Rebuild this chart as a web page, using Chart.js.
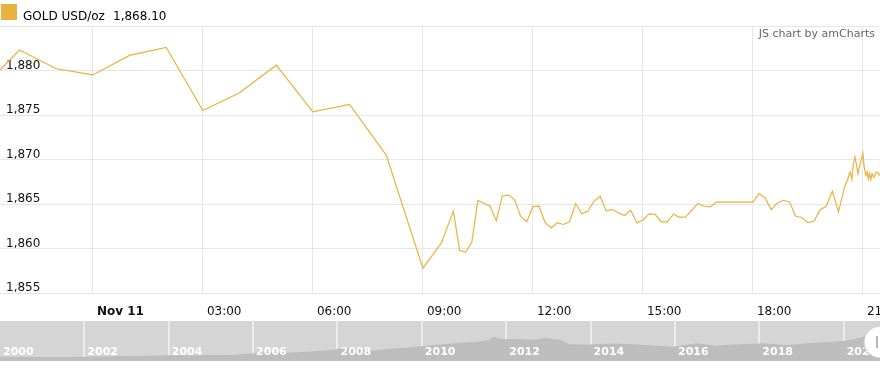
<!DOCTYPE html>
<html>
<head>
<meta charset="utf-8">
<script src="https://cdn.jsdelivr.net/npm/chart.js@4/dist/chart.umd.min.js"></script>
<style>
  html, body { margin: 0; padding: 0; background: #ffffff; }
  #wrap { position: relative; width: 880px; height: 369px; overflow: hidden; }
  #main { position: absolute; left: 0; top: 0; }
  #nav { position: absolute; left: 0; top: 321px; }
</style>
</head>
<body>
<div id="wrap">
  <canvas id="main" width="880" height="321"></canvas>
  <canvas id="nav" width="880" height="40"></canvas>
</div>
<script>
// ---- data ----
const seriesName = 'GOLD USD/oz';
const creditText = 'JS chart by amCharts';
// minutes relative to Nov 11 00:00 (negative = Nov 10)
const mainTimes = [
  -180, -120, -60, 0, 60, 120, 180, 240, 300, 360, 420, 480, 540,
  570, 590, 600, 610, 620, 630, 650, 660, 670, 680, 690, 700, 710, 720,
  730, 740, 750, 760, 770, 780, 790, 800, 810, 820, 830, 840, 850, 860,
  870, 880, 890, 900, 910, 920, 930, 940, 950, 960, 970, 990, 1000, 1010,
  1020, 1080, 1090, 1100, 1110, 1120, 1130, 1140, 1150, 1160, 1170, 1180,
  1190, 1200, 1210, 1220, 1230, 1235, 1239, 1242, 1244, 1247, 1250, 1252,
  1255, 1258, 1260, 1262, 1265, 1267, 1269, 1271, 1273, 1275, 1278, 1281,
  1283, 1286, 1289
];
const mainValues = [
  1878.1, 1882.3, 1880.2, 1879.5, 1881.7, 1882.6, 1875.5, 1877.5, 1880.6, 1875.35, 1876.2, 1870.5, 1857.8,
  1860.6, 1864.2, 1859.8, 1859.6, 1860.7, 1865.4, 1864.75, 1863.1, 1865.9, 1866.0, 1865.5, 1863.6, 1863.0, 1864.7,
  1864.75, 1862.9, 1862.3, 1862.9, 1862.7, 1863.0, 1865.05, 1863.9, 1864.2, 1865.3, 1865.9, 1864.2, 1864.4, 1864.0,
  1863.7, 1864.3, 1862.9, 1863.2, 1863.9, 1863.85, 1863.0, 1863.0, 1863.85, 1863.5, 1863.55, 1865.05, 1864.75, 1864.67,
  1865.2, 1865.2, 1866.17, 1865.68, 1864.37, 1865.12, 1865.42, 1865.23, 1863.62, 1863.48, 1862.91, 1863.06,
  1864.37, 1864.75, 1866.43, 1864.11, 1866.92, 1867.75, 1868.6, 1867.75, 1869.4, 1870.3, 1869.2, 1868.4,
  1869.4, 1870.1, 1870.7, 1869.2, 1868.2, 1868.6, 1867.85, 1868.4, 1867.75, 1868.4, 1868.0, 1868.5,
  1868.6, 1868.4, 1868.1
];
const xTickValues = [0, 180, 360, 540, 720, 900, 1080, 1260];
const xTickLabels = ['Nov 11', '03:00', '06:00', '09:00', '12:00', '15:00', '18:00', '21:00'];
const yMin = 1855, yMax = 1885, yStep = 5;

// navigator (scrollbar) history
const navYears = [2000, 2000.5, 2001, 2001.5, 2002, 2002.5, 2003, 2003.5, 2004, 2004.5,
  2005, 2005.5, 2006, 2006.4, 2006.8, 2007.3, 2007.8, 2008.2, 2008.5, 2008.8,
  2009.2, 2009.7, 2009.95, 2010.4, 2010.9, 2011.3, 2011.6, 2011.68, 2011.9, 2012.3,
  2012.7, 2012.9, 2013.3, 2013.5, 2014, 2014.5, 2015, 2015.5, 2015.95, 2016.5,
  2016.95, 2017.5, 2018.1, 2018.6, 2019.0, 2019.5, 2019.9, 2020.2, 2020.6, 2020.86];
const navPrices = [285, 280, 265, 270, 280, 315, 350, 350, 410, 395,
  425, 430, 550, 650, 600, 670, 800, 970, 900, 750,
  900, 1000, 1100, 1230, 1380, 1430, 1600, 1850, 1650, 1650,
  1600, 1750, 1600, 1250, 1240, 1310, 1250, 1150, 1060, 1330,
  1150, 1250, 1330, 1200, 1290, 1410, 1480, 1600, 1970, 1870];
const navYearLabels = ['2000', '2002', '2004', '2006', '2008', '2010', '2012', '2014', '2016', '2018', '2020'];
const navGridYears = [2002, 2004, 2006, 2008, 2010, 2012, 2014, 2016, 2018, 2020];

// ---- styles ----
const lineColor = '#e9b23e';
const gridColor = '#e6e6e6';
const FONT = '"DejaVu Sans", Verdana, sans-serif';

const lastValueText = mainValues[mainValues.length - 1].toLocaleString('en-US', {minimumFractionDigits: 2, maximumFractionDigits: 2});

const mainDecor = {
  id: 'mainDecor',
  afterDraw(chart) {
    const ctx = chart.ctx;
    ctx.save();
    ctx.fillStyle = lineColor;
    ctx.fillRect(1, 4, 16, 16);
    ctx.font = '12px ' + FONT;
    ctx.fillStyle = '#000';
    ctx.textAlign = 'left';
    ctx.textBaseline = 'alphabetic';
    ctx.fillText(seriesName, 23, 19.5);
    ctx.fillText(lastValueText, 113, 19.5);
    ctx.font = '11px ' + FONT;
    ctx.fillStyle = '#666';
    ctx.textAlign = 'right';
    ctx.textBaseline = 'middle';
    ctx.fillText(creditText, 875, 34);
    ctx.restore();
  }
};

new Chart(document.getElementById('main'), {
  type: 'line',
  data: {
    datasets: [{
      label: seriesName,
      data: mainTimes.map((t, i) => ({x: t, y: mainValues[i]})),
      borderColor: lineColor,
      borderWidth: 1.2,
      pointRadius: 0,
      tension: 0,
      fill: false
    }]
  },
  options: {
    responsive: false,
    animation: false,
    layout: {padding: {top: 26, left: 0, right: 0, bottom: 0}},
    plugins: {legend: {display: false}, tooltip: {enabled: false}},
    scales: {
      x: {
        type: 'linear',
        min: -152,
        max: 1288,
        afterBuildTicks(axis) { axis.ticks = xTickValues.map(v => ({value: v})); },
        afterFit(axis) { axis.paddingLeft = 0; axis.paddingRight = 0; axis.height = 28; },
        grid: {color: gridColor, drawTicks: false},
        border: {display: false},
        ticks: {
          autoSkip: false,
          maxRotation: 0,
          align: 'start',
          labelOffset: 4,
          padding: 12,
          color: '#111',
          font: (c) => ({family: FONT, size: 12, weight: (c.tick && c.tick.value === 0) ? 'bold' : 'normal'}),
          callback: (v, i) => xTickLabels[i]
        }
      },
      y: {
        min: yMin,
        max: yMax,
        afterFit(scale) { scale.width = 0; },
        grid: {color: gridColor, drawTicks: false},
        border: {display: false},
        ticks: {
          stepSize: yStep,
          mirror: true,
          padding: 6,
          labelOffset: -5,
          color: '#111',
          font: {family: FONT, size: 12},
          callback: (v) => v === yMax ? '' : v.toLocaleString('en-US')
        }
      }
    }
  },
  plugins: [mainDecor]
});

const navDecor = {
  id: 'navDecor',
  beforeDraw(chart) {
    const ctx = chart.ctx;
    ctx.save();
    ctx.fillStyle = '#d5d5d5';
    ctx.fillRect(0, 0, chart.width, chart.height);
    ctx.restore();
  },
  afterDraw(chart) {
    const ctx = chart.ctx;
    const xs = chart.scales.x;
    ctx.save();
    ctx.font = 'bold 11px ' + FONT;
    ctx.fillStyle = '#ffffff';
    ctx.textAlign = 'left';
    ctx.textBaseline = 'middle';
    navYearLabels.forEach(lbl => {
      ctx.fillText(lbl, xs.getPixelForValue(Number(lbl)) + 3, 31);
    });
    // scrollbar grip
    ctx.beginPath();
    ctx.arc(880, 21, 16, 0, Math.PI * 2);
    ctx.fillStyle = '#ffffff';
    ctx.fill();
    ctx.strokeStyle = '#cccccc';
    ctx.lineWidth = 1;
    ctx.stroke();
    ctx.fillStyle = '#b5b5b5';
    ctx.fillRect(876, 15, 2, 12);
    ctx.restore();
  }
};

new Chart(document.getElementById('nav'), {
  type: 'line',
  data: {
    datasets: [{
      data: navYears.map((y, i) => ({x: y, y: navPrices[i]})),
      borderColor: '#bcbcbc',
      borderWidth: 1,
      backgroundColor: '#bdbdbd',
      fill: 'origin',
      pointRadius: 0,
      tension: 0
    }]
  },
  options: {
    responsive: false,
    animation: false,
    layout: {padding: 0},
    plugins: {legend: {display: false}, tooltip: {enabled: false}},
    scales: {
      x: {
        type: 'linear',
        min: 2000,
        max: 2020.86,
        z: 1,
        afterBuildTicks(axis) { axis.ticks = navGridYears.map(v => ({value: v})); },
        grid: {color: '#ececec', lineWidth: 2, drawTicks: false},
        border: {display: false},
        ticks: {display: false}
      },
      y: {display: false, min: 0, max: 3100}
    }
  },
  plugins: [navDecor]
});
</script>
</body>
</html>
